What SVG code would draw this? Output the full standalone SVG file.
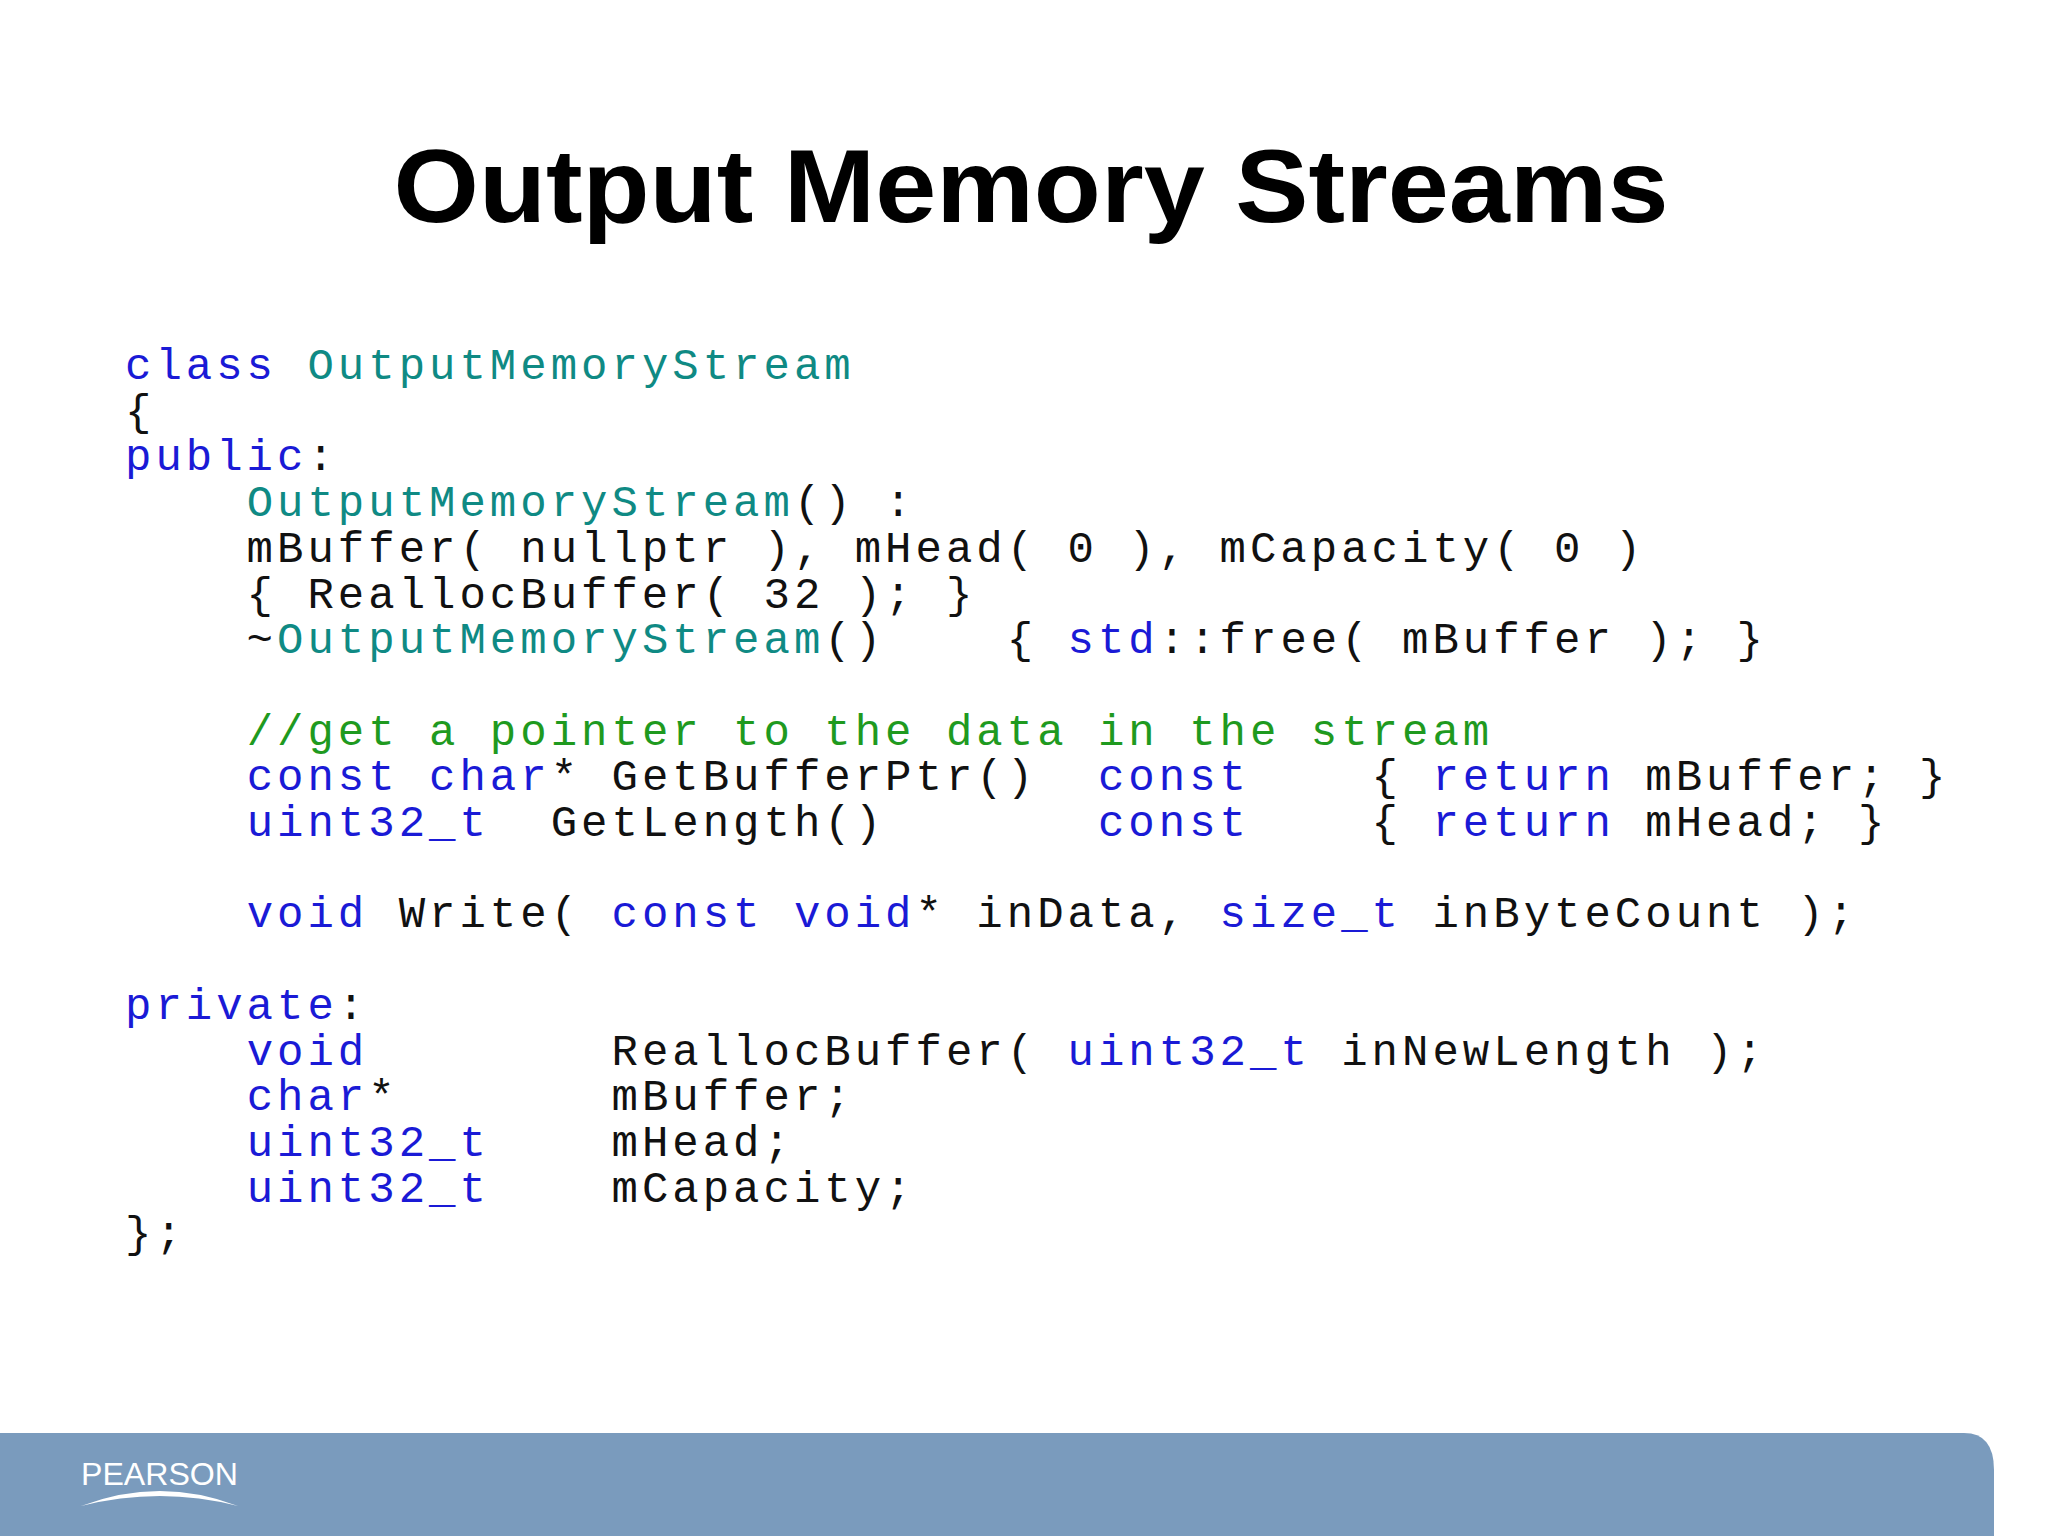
<svg xmlns="http://www.w3.org/2000/svg" width="2048" height="1536" viewBox="0 0 2048 1536" xml:space="preserve">
<style>
.c text{font-family:"Liberation Mono","Courier New",monospace;font-size:44px;letter-spacing:4px;fill:#111;white-space:pre}
.k{fill:#1a1ad6}.t{fill:#0f8a84}.g{fill:#1f9a1f}
</style>
<rect width="2048" height="1536" fill="#fff"/>
<g id="title"><text x="1031" y="222" text-anchor="middle" font-family="Liberation Sans,Arial,sans-serif" font-weight="bold" font-size="104" textLength="1275" lengthAdjust="spacingAndGlyphs">Output Memory Streams</text></g>
<g id="code" class="c">
<text x="125" y="379"><tspan class="k">class</tspan> <tspan class="t">OutputMemoryStream</tspan></text>
<text x="125" y="425">{</text>
<text x="125" y="470"><tspan class="k">public</tspan>:</text>
<text x="125" y="516">    <tspan class="t">OutputMemoryStream</tspan>() :</text>
<text x="125" y="562">    mBuffer( nullptr ), mHead( 0 ), mCapacity( 0 )</text>
<text x="125" y="608">    { ReallocBuffer( 32 ); }</text>
<text x="125" y="653">    ~<tspan class="t">OutputMemoryStream</tspan>()    { <tspan class="k">std</tspan>::free( mBuffer ); }</text>
<text x="125" y="745">    <tspan class="g">//get a pointer to the data in the stream</tspan></text>
<text x="125" y="790">    <tspan class="k">const char</tspan>* GetBufferPtr()  <tspan class="k">const</tspan>    { <tspan class="k">return</tspan> mBuffer; }</text>
<text x="125" y="836">    <tspan class="k">uint32_t</tspan>  GetLength()       <tspan class="k">const</tspan>    { <tspan class="k">return</tspan> mHead; }</text>
<text x="125" y="927">    <tspan class="k">void</tspan> Write( <tspan class="k">const void</tspan>* inData, <tspan class="k">size_t</tspan> inByteCount );</text>
<text x="125" y="1019"><tspan class="k">private</tspan>:</text>
<text x="125" y="1065">    <tspan class="k">void</tspan>        ReallocBuffer( <tspan class="k">uint32_t</tspan> inNewLength );</text>
<text x="125" y="1110">    <tspan class="k">char</tspan>*       mBuffer;</text>
<text x="125" y="1156">    <tspan class="k">uint32_t</tspan>    mHead;</text>
<text x="125" y="1202">    <tspan class="k">uint32_t</tspan>    mCapacity;</text>
<text x="125" y="1247">};</text>
</g>
<g id="banner">
<path d="M0 1433 H1964 Q1994 1433 1994 1470 V1536 H0 Z" fill="#7a9bbd"/>
<text x="81" y="1485" font-family="Liberation Sans,Arial,sans-serif" font-size="32" fill="#fff" textLength="157" lengthAdjust="spacingAndGlyphs">PEARSON</text>
<path d="M81 1506 Q160 1476 238 1506 Q160 1486 81 1506 Z" fill="#fff"/>
</g>
</svg>
